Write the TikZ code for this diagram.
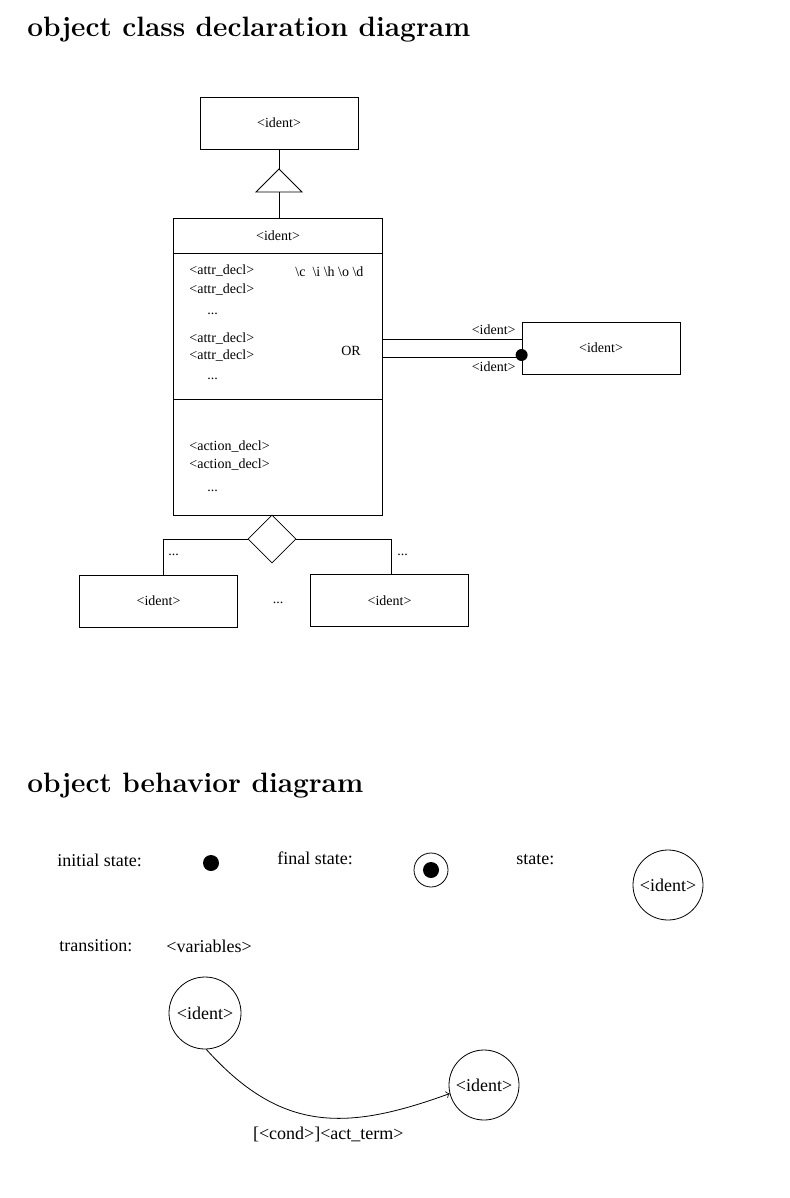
\documentclass[tikz,border=0pt]{standalone}
\usepackage{fontspec}
\newfontfamily\timesf{Liberation Serif}
\usetikzlibrary{shapes.geometric}
\usetikzlibrary{arrows}

\begin{document}
\begin{tikzpicture}[x=0.5pt,y=-0.5pt,
    heading/.style={anchor=base west, inner sep=0pt, font=\fontsize{14}{16}\bfseries},
    cdtext/.style={inner sep=0pt, font=\timesf\fontsize{7}{8}\selectfont},
    obtext/.style={inner sep=0pt, font=\timesf\fontsize{9}{10}\selectfont},
    classbox/.style={draw, rectangle, minimum width=79pt, minimum height=26pt, inner sep=0pt, cdtext},
    compart/.style={draw, rectangle, minimum width=104.5pt, inner sep=0pt, outer sep=0pt, cdtext},
    statec/.style={draw, circle, inner sep=0pt, obtext}]

  \useasboundingbox (0,0) rectangle (790,1198);

  % object class declaration diagram
  \node[heading] (title1) at (27,37) {object class declaration diagram};

  \node[classbox] (super) at (279,123) {<ident>};

  \node[compart, minimum height=17.5pt] (cls) at (278,235.5) {<ident>};
  \node[compart, minimum height=73pt, anchor=north] (attrs) at (cls.south) {};
  \node[compart, minimum height=58pt, anchor=north] (acts) at (attrs.south) {};

  % inheritance triangle
  \coordinate (tri) at (279,169);
  \coordinate (tribase) at (279,192);
  \draw (super.south) -- (tri);
  \draw (tri) -- ++(23,23) -- ++(-46,0) -- cycle;
  \draw (tribase) -- (tribase |- cls.north);

  % attributes
  \foreach \y in {271,290,339,356}
    \node[cdtext, anchor=west] at (189,\y) {<attr\_decl>};
  \foreach \y in {314,379}
    \node[cdtext, anchor=west] at (207,\y) {...};
  \node[cdtext, anchor=west] at (295,272) {\textbackslash c\ \ \textbackslash i \textbackslash h \textbackslash o \textbackslash d};
  \node[cdtext] at (351,351) {OR};

  % actions
  \foreach \y in {447,465}
    \node[cdtext, anchor=west] at (189,\y) {<action\_decl>};
  \node[cdtext, anchor=west] at (207,491) {...};

  % association
  \node[classbox] (assoc) at (601,348) {<ident>};
  \draw (attrs.east |- 0,339) -- (assoc.west |- 0,339);
  \draw (attrs.east |- 0,357) -- (assoc.west |- 0,357);
  \fill (assoc.west |- 0,355) circle (3pt);
  \node[cdtext, anchor=east] at (516,330) {<ident>};
  \node[cdtext, anchor=east] at (516,367) {<ident>};

  % aggregation
  \node[draw, diamond, minimum size=24pt, inner sep=0pt] (agg) at (272,539) {};
  \node[classbox] (partl) at (158.5,601) {<ident>};
  \node[classbox] (partr) at (389.5,600.5) {<ident>};
  \draw (agg.west) -| ([xshift=2.25pt]partl.north);
  \draw (agg.east) -| ([xshift=0.75pt]partr.north);
  \node[cdtext, anchor=west] at (168,555) {...};
  \node[cdtext, anchor=west] at (397,555) {...};
  \node[cdtext] at (278,603) {...};

  % object behavior diagram
  \node[heading] (title2) at (27,792) {object behavior diagram};

  \node[obtext, anchor=west] at (57,860) {initial state:};
  \node[circle, fill, minimum size=8pt, inner sep=0pt] (init) at (211,863) {};

  \node[obtext, anchor=west] at (277,858) {final state:};
  \node[circle, draw, minimum size=17pt, inner sep=0pt] (final) at (431,870) {};
  \node[circle, fill, minimum size=8pt, inner sep=0pt] at (final) {};

  \node[obtext, anchor=west] at (516,860) {state:};
  \node[statec, minimum size=35pt] (st) at (668,885) {<ident>};

  \node[obtext, anchor=west] at (59,946) {transition:};
  \node[obtext, anchor=west] at (166,946) {<variables>};

  \node[statec, minimum size=36pt] (s1) at (205,1013) {<ident>};
  \node[statec, minimum size=35pt] (s2) at (484,1085) {<ident>};
  \draw[->] (s1.-88) to[out=-48, in=200, looseness=1.15]
    node[obtext, pos=0.55, below=4.5pt] {[<cond>]<act\_term>} (s2.194);

\end{tikzpicture}
\end{document}
